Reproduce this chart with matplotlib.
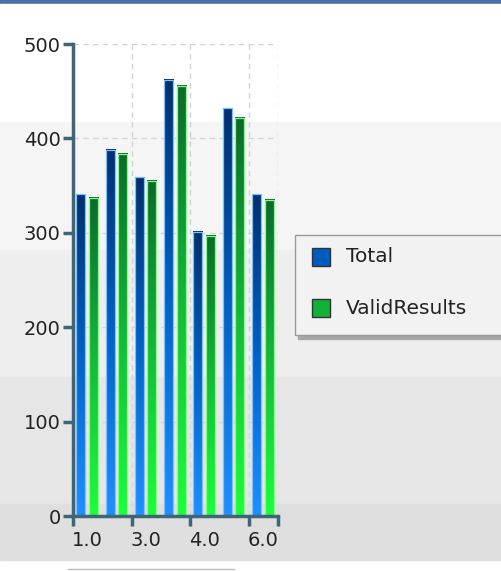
import numpy as np
import matplotlib.pyplot as plt
from matplotlib.colors import LinearSegmentedColormap
from matplotlib.patches import Rectangle
from matplotlib.lines import Line2D

# data
categories = ["1.0", "2.0", "3.0", "3.5", "4.0", "5.0", "6.0"]
total = [341, 388, 359, 462, 301, 432, 341]
valid_results = [337, 384, 355, 456, 297, 422, 335]
y_ticks = [0, 100, 200, 300, 400, 500]

W, H = 501, 571
fig = plt.figure(figsize=(W / 100, H / 100), dpi=100)
fig.patch.set_facecolor("white")

# background bands across the whole panel (pixel rows from top)
bands = [(0, 4, "#4b70a8"), (4, 122, "#ffffff"), (122, 250, "#f5f5f5"),
         (250, 377, "#eeeeee"), (377, 504, "#e6e6e6"), (504, 560, "#dfdfdf")]
for top, bot, col in bands:
    fig.patches.append(Rectangle((0, 1 - bot / H), 1, (bot - top) / H,
                                 transform=fig.transFigure, color=col, zorder=-10))
fig.lines.append(Line2D([68 / W, 234 / W], [1 - 568.5 / H] * 2, transform=fig.transFigure,
                        color="#bdbdbd", linewidth=1, zorder=-5))

left, right, y_top, y_bot = 73, 278, 44, 516
ax = fig.add_axes([left / W, 1 - y_bot / H, (right - left) / W, (y_bot - y_top) / H])
ax.set_zorder(1)
ax.set_facecolor("none")

cmap_total = LinearSegmentedColormap.from_list("t", ["#1e90ff", "#0062c4", "#00306c"])
cmap_valid = LinearSegmentedColormap.from_list("v", ["#1cff3c", "#14b83a", "#0b6a2c"])
grad = np.linspace(0, 1, 256).reshape(-1, 1)

width = 0.31
for i in range(len(categories)):
    c = i + 0.48
    for val, off, cmap, edge in [(total[i], -0.215, cmap_total, "#7cc0ff"),
                                 (valid_results[i], 0.215, cmap_valid, "#80ff80")]:
        x0 = c + off - width / 2
        ax.imshow(grad, cmap=cmap, origin="lower", aspect="auto",
                  extent=[x0, x0 + width, 0, val], zorder=2)
        ax.add_patch(Rectangle((x0, 0), width, val, fill=False,
                               edgecolor=edge, linewidth=0.9, zorder=3))
ax.set_xlim(0, len(categories))
ax.set_ylim(0, 500)

# dashed grid
for y in y_ticks[1:]:
    ax.axhline(y, color="#cfd6da", linestyle=(0, (4, 3)), linewidth=1, zorder=1)
for x in [2, 4, 6, 7]:
    ax.axvline(x, color="#cfd6da", linestyle=(0, (4, 3)), linewidth=1, zorder=1)

axis_col = "#3f6676"
for s in ["top", "right"]:
    ax.spines[s].set_visible(False)
for s in ["left", "bottom"]:
    ax.spines[s].set_color(axis_col)
    ax.spines[s].set_linewidth(2.5)
    ax.spines[s].set_zorder(4)

ax.set_yticks(y_ticks)
ax.set_yticklabels([str(v) for v in y_ticks])
ax.tick_params(axis="y", length=7, width=2.5, color=axis_col, labelsize=14,
               labelcolor="#222222", pad=2)

ax.set_xticks([0, 2, 4, 6, 7])
ax.set_xticklabels([])
ax.tick_params(axis="x", which="major", length=7, width=2.5, color=axis_col)
ax.set_xticks([i + 0.5 for i in range(0, len(categories), 2)], minor=True)
ax.set_xticklabels(categories[::2], minor=True)
ax.tick_params(axis="x", which="minor", length=0, labelsize=14,
               labelcolor="#222222", pad=11)

# legend box with shadow
fig.patches.append(Rectangle((298 / W, 1 - 339 / H), 205 / W, 100 / H,
                             transform=fig.transFigure, color="#a8a8a8", zorder=4))
fig.patches.append(Rectangle((295 / W, 1 - 335 / H), 208 / W, 100 / H,
                             transform=fig.transFigure, facecolor="#f2f2f2",
                             edgecolor="#9a9a9a", linewidth=1, zorder=5))
for name, cmap, yy in [("Total", cmap_total, 257), ("ValidResults", cmap_valid, 308)]:
    fig.patches.append(Rectangle((312 / W, 1 - (yy + 9) / H), 18 / W, 18 / H,
                                 transform=fig.transFigure, facecolor=cmap(0.55),
                                 edgecolor="#333333", linewidth=1, zorder=6))
    fig.text(346 / W, 1 - yy / H, name, fontsize=14.5, color="#222222",
             va="center", ha="left", zorder=7)

fig.savefig("out.png", dpi=100)
